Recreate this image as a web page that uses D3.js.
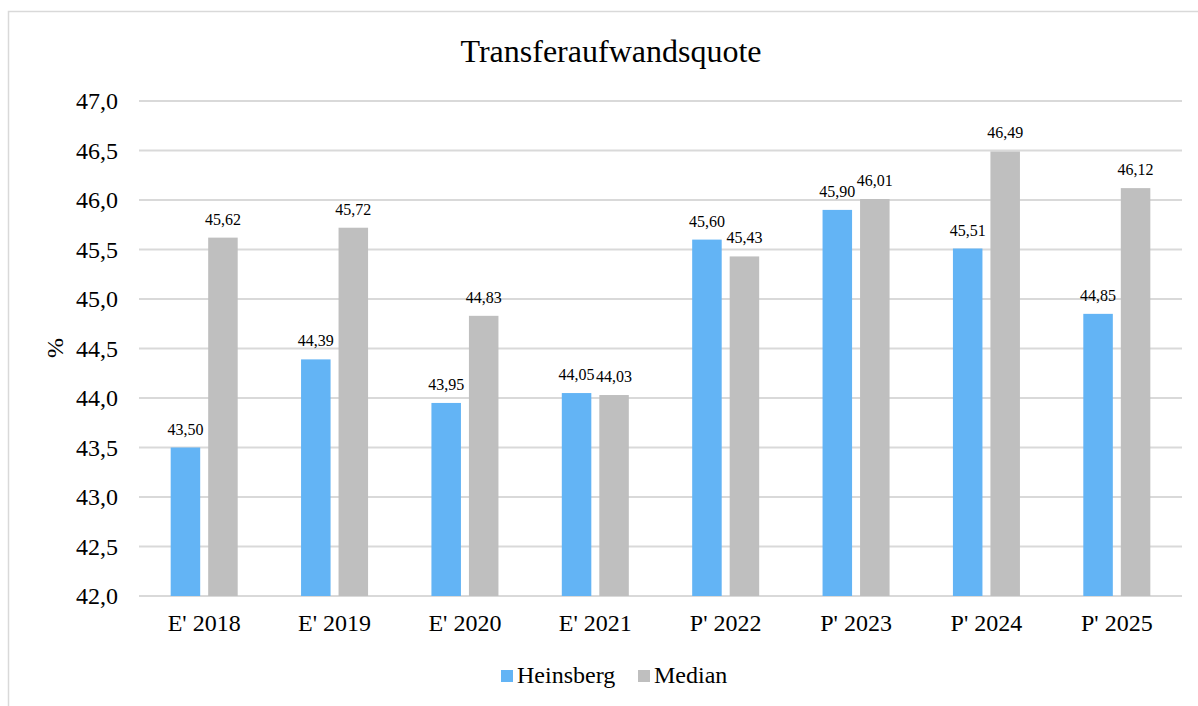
<!DOCTYPE html>
<html>
<head>
<meta charset="utf-8">
<script src="https://cdn.jsdelivr.net/npm/d3@7"></script>
<style>
  body { margin: 0; background: #fff; }
  text { font-family: "Liberation Serif", "Times New Roman", serif; fill: #000; }
</style>
</head>
<body>
<div id="page"></div>
<script>
var categories = ["E' 2018", "E' 2019", "E' 2020", "E' 2021", "P' 2022", "P' 2023", "P' 2024", "P' 2025"];
var seriesNames = ["Heinsberg", "Median"];
var heinsberg = [43.50, 44.39, 43.95, 44.05, 45.60, 45.90, 45.51, 44.85];
var median = [45.62, 45.72, 44.83, 44.03, 45.43, 46.01, 46.49, 46.12];
var yTicks = [42.0, 42.5, 43.0, 43.5, 44.0, 44.5, 45.0, 45.5, 46.0, 46.5, 47.0];

var colors = { "Heinsberg": "#63b4f5", "Median": "#bfbfbf" };

var width = 1198, height = 706;
var margin = { left: 139, right: 16, top: 101, bottom: 110 };

var svg = d3.select("#page").append("svg")
    .attr("width", width)
    .attr("height", height);

// outer chart frame (runs off the right / bottom edge)
svg.append("rect")
    .attr("x", 8.5).attr("y", 11.5)
    .attr("width", 1300).attr("height", 800)
    .attr("fill", "none")
    .attr("stroke", "#d9d9d9")
    .attr("stroke-width", 1.5);

var x0 = d3.scaleBand()
    .domain(categories)
    .range([margin.left, width - margin.right])
    .paddingInner(0.486)
    .paddingOuter(0.243);

var x1 = d3.scaleBand()
    .domain(seriesNames)
    .range([0, x0.bandwidth()])
    .paddingInner(0.213);

var y = d3.scaleLinear()
    .domain([42, 47])
    .range([height - margin.bottom, margin.top]);

var fmt = function(v, d) { return v.toFixed(d).replace(".", ","); };

// gridlines
svg.append("g").selectAll("line")
    .data(yTicks)
  .enter().append("line")
    .attr("x1", margin.left)
    .attr("x2", width - margin.right)
    .attr("y1", function(d) { return y(d); })
    .attr("y2", function(d) { return y(d); })
    .attr("stroke", "#d9d9d9")
    .attr("stroke-width", 2);

// y axis labels
var yAxis = d3.axisLeft(y).tickValues(yTicks).tickSize(0).tickPadding(21)
    .tickFormat(function(d) { return fmt(d, 1); });
var yg = svg.append("g")
    .attr("transform", "translate(" + margin.left + ",0)")
    .call(yAxis);
yg.select(".domain").remove();
yg.selectAll("text").style("font-size", "24px").style("font-family", "Liberation Serif");

// x axis labels
var xAxis = d3.axisBottom(x0).tickSize(0).tickPadding(18);
var xg = svg.append("g")
    .attr("transform", "translate(0," + y(42) + ")")
    .call(xAxis);
xg.select(".domain").remove();
xg.selectAll("text").style("font-size", "24px").style("font-family", "Liberation Serif");

var rows = categories.map(function(c, i) {
  return { cat: c, values: [
    { name: "Heinsberg", value: heinsberg[i] },
    { name: "Median", value: median[i] }
  ] };
});

var groups = svg.append("g").selectAll("g")
    .data(rows)
  .enter().append("g")
    .attr("transform", function(d) { return "translate(" + x0(d.cat) + ",0)"; });

groups.selectAll("rect")
    .data(function(d) { return d.values; })
  .enter().append("rect")
    .attr("x", function(d) { return x1(d.name); })
    .attr("y", function(d) { return y(d.value); })
    .attr("width", x1.bandwidth())
    .attr("height", function(d) { return y(42) - y(d.value); })
    .attr("fill", function(d) { return colors[d.name]; });

groups.selectAll("text.val")
    .data(function(d) { return d.values; })
  .enter().append("text")
    .attr("class", "val")
    .attr("x", function(d) { return x1(d.name) + x1.bandwidth() / 2; })
    .attr("y", function(d) { return y(d.value) - 13; })
    .attr("text-anchor", "middle")
    .style("font-size", "16px")
    .text(function(d) { return fmt(d.value, 2); });

// title
svg.append("text")
    .attr("x", 611).attr("y", 62)
    .attr("text-anchor", "middle")
    .style("font-size", "32px")
    .text("Transferaufwandsquote");

// y axis title
svg.append("text")
    .attr("transform", "translate(63,348) rotate(-90)")
    .attr("text-anchor", "middle")
    .style("font-size", "24px")
    .text("%");

// legend
var legend = svg.append("g").selectAll("g")
    .data(seriesNames)
  .enter().append("g")
    .attr("transform", function(d, i) { return "translate(" + (501 + i * 137) + ",670)"; });
legend.append("rect")
    .attr("width", 12).attr("height", 12)
    .attr("fill", function(d) { return colors[d]; });
legend.append("text")
    .attr("x", 16).attr("y", 13)
    .style("font-size", "24px")
    .text(function(d) { return d; });
</script>
</body>
</html>
